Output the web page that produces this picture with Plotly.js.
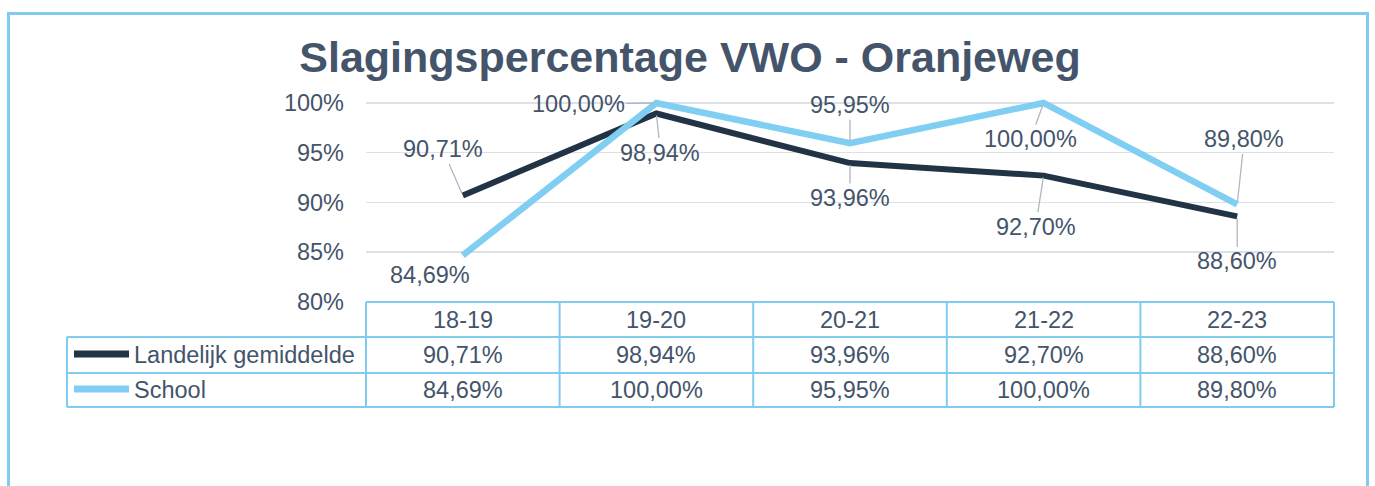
<!DOCTYPE html>
<html>
<head>
<meta charset="utf-8">
<script src="https://cdn.plot.ly/plotly-3.0.1.min.js"></script>
<style>html,body{margin:0;padding:0;background:#fff;}#chart{width:1375px;height:486px;}</style>
</head>
<body>
<div id="chart"></div>
<script>
const categories = ['18-19', '19-20', '20-21', '21-22', '22-23'];
const seriesNames = ['Landelijk gemiddelde', 'School'];
const landelijk = [90.71, 98.94, 93.96, 92.70, 88.60];
const school = [84.69, 100.00, 95.95, 100.00, 89.80];
const yTicks = [80, 85, 90, 95, 100];
const titleText = 'Slagingspercentage VWO - Oranjeweg';

// label offsets (px) for data labels: [ax, ay, showArrow]
const landelijkLabelPos = [[-20, -46, true], [4, 39, true], [0, 35, true], [-8, 51, true], [0, 45, true]];
const schoolLabelPos = [[-33, -20, false], [-78, 1, true], [0, -38, true], [-13, 36, true], [7, -65, true]];

const textColor = '#44546A';
const darkColor = '#213345';
const lightColor = '#80CFF3';
const borderColor = '#80CCF1';
const FONT = 'Liberation Sans, Arial, sans-serif';
const fmt = v => v.toFixed(2).replace('.', ',') + '%';

// pixel-to-paper helpers (plot area: x 366..1334, y 97..302)
const L = 366, R = 41, T = 97, B = 184, W = 1375, H = 486;
const pw = W - L - R, ph = H - T - B;
const xp = X => (X - L) / pw;
const yp = Y => (H - B - Y) / ph;

const traces = [
  {x: categories, y: landelijk, name: seriesNames[0], type: 'scatter', mode: 'lines',
   line: {color: darkColor, width: 6}, hoverinfo: 'skip', showlegend: false},
  {x: categories, y: school, name: seriesNames[1], type: 'scatter', mode: 'lines',
   line: {color: lightColor, width: 6.5}, hoverinfo: 'skip', showlegend: false}
];

const annotations = [];
function addLabels(vals, pos) {
  vals.forEach((v, i) => {
    const [ax, ay, arr] = pos[i];
    const a = {x: categories[i], y: v, xref: 'x', yref: 'y', text: fmt(v),
      font: {family: FONT, size: 23.5, color: textColor}};
    if (arr) {
      Object.assign(a, {showarrow: true, ax: ax, ay: ay, arrowhead: 0, arrowwidth: 1.3,
        arrowcolor: '#AEB6C3', standoff: 2});
    } else {
      Object.assign(a, {showarrow: false, xshift: ax, yshift: ay, xanchor: 'center', yanchor: 'middle'});
    }
    annotations.push(a);
  });
}
addLabels(landelijk, landelijkLabelPos);
addLabels(school, schoolLabelPos);

// table header and values
const rowY = [yp(320), yp(355), yp(390)];
const cell = (x, xref, y, text, xanchor) => ({x: x, xref: xref, y: y, yref: 'paper', text: text, showarrow: false,
  xanchor: xanchor || 'center', yanchor: 'middle', font: {family: FONT, size: 23.5, color: textColor}});
categories.forEach((c, i) => {
  annotations.push(cell(c, 'x', rowY[0], c));
  annotations.push(cell(c, 'x', rowY[1], fmt(landelijk[i])));
  annotations.push(cell(c, 'x', rowY[2], fmt(school[i])));
});
seriesNames.forEach((n, k) => {
  annotations.push(cell(xp(132), 'paper', rowY[k + 1], n, 'left'));
});

const shapes = [];
const tl = {color: borderColor, width: 2};
function seg(x0, y0, x1, y1, line) {
  shapes.push({type: 'line', xref: 'paper', yref: 'paper', x0: xp(x0), y0: yp(y0), x1: xp(x1), y1: yp(y1), line: line, layer: 'above'});
}
// table lines
seg(366, 302, 1334, 302, tl);
seg(67, 337, 1334, 337, tl);
seg(67, 373, 1334, 373, tl);
seg(67, 407, 1334, 407, tl);
seg(67, 337, 67, 407, tl);
[366, 559.6, 753.2, 946.8, 1140.4, 1334].forEach(X => seg(X, 302, X, 407, tl));
// legend keys
seg(74, 354, 129, 354, {color: darkColor, width: 7});
seg(74, 389, 129, 389, {color: lightColor, width: 7});
// outer frame
shapes.push({type: 'rect', xref: 'paper', yref: 'paper', x0: xp(8.5), x1: xp(1367.5), y0: yp(13.5), y1: yp(520),
  line: {color: borderColor, width: 3}, layer: 'below'});

const layout = {
  width: W, height: H,
  margin: {l: L, r: R, t: T, b: B, pad: 0},
  paper_bgcolor: '#ffffff', plot_bgcolor: '#ffffff',
  title: {text: '<b>' + titleText + '</b>', font: {family: FONT, size: 43, color: textColor},
    x: 690 / W, xref: 'container', xanchor: 'center', y: 1 - 57 / H, yref: 'container', yanchor: 'middle'},
  xaxis: {type: 'category', categoryarray: categories, range: [-0.5, 4.5], showticklabels: false,
    showgrid: false, zeroline: false, showline: false, fixedrange: true},
  yaxis: {range: [80, 100.6], tickvals: yTicks, ticktext: yTicks.map(v => v + '%'),
    showgrid: true, gridcolor: '#DDE0E7', gridwidth: 1.5, zeroline: false, showline: false, ticks: '',
    ticklabelstandoff: 21, tickfont: {family: FONT, size: 23.5, color: textColor}, fixedrange: true},
  showlegend: false,
  annotations: annotations,
  shapes: shapes
};

Plotly.newPlot('chart', traces, layout, {displayModeBar: false, staticPlot: true});
</script>
</body>
</html>
